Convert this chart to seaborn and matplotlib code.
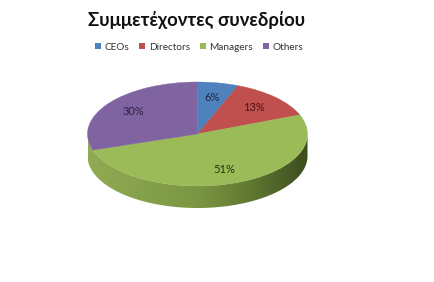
import numpy as np
import matplotlib
matplotlib.use("Agg")
import matplotlib.pyplot as plt
import seaborn as sns
from matplotlib.path import Path
from matplotlib.patches import PathPatch, Patch
import matplotlib.colors as mcolors

categories = ["CEOs", "Directors", "Managers", "Others"]
values = [6, 13, 51, 30]
colors = ["#4F81BD", "#C0504D", "#9BBB59", "#8064A2"]
label_colors = ["#1c2a44", "#4a1514", "#26330f", "#2e2244"]
title = "Συμμετέχοντες συνεδρίου"

sns.set_theme(style="white")
plt.rcParams['font.family'] = ['Lato', 'DejaVu Sans']

W, H = 434, 282
fig = plt.figure(figsize=(W / 100, H / 100), dpi=100)
ax = fig.add_axes([0, 0, 1, 1])

# geometry in pixels
cx, cy = 197.5, 134.0
a, b = 110.0, 52.0
thick = 22.0 / b

# side band (gradient) drawn first
th = np.linspace(np.pi, 2 * np.pi, 200)
top = np.column_stack([np.cos(th), np.sin(th)])
bot = np.column_stack([np.cos(th[::-1]), np.sin(th[::-1]) - thick])
verts = np.vstack([top, bot, top[:1]])
codes = [Path.MOVETO] + [Path.LINETO] * (len(verts) - 2) + [Path.CLOSEPOLY]
band = PathPatch(Path(verts, codes), facecolor="none", edgecolor="none")
ax.add_patch(band)
cmap = mcolors.LinearSegmentedColormap.from_list(
    "side", ["#8fab53", "#86a14b", "#7b9642", "#5f7732", "#3c4c1e"])
grad = np.linspace(0, 1, 256).reshape(1, -1)
im = ax.imshow(grad, extent=(-1, 1, -1 - thick, 0.1), cmap=cmap,
               aspect="auto", zorder=1, interpolation="bilinear")
im.set_clip_path(band)

wedges, texts, autotexts = ax.pie(
    values, colors=colors, startangle=90, counterclock=False,
    autopct="%1.0f%%", pctdistance=0.72,
    wedgeprops=dict(linewidth=0, zorder=2),
    textprops=dict(fontsize=8))
for w, c in zip(wedges, colors):
    w.set_zorder(2)
    w.set_edgecolor(c)
    w.set_linewidth(0.3)
for t, c in zip(autotexts, label_colors):
    t.set_color(c)
    t.set_zorder(3)

ax.set_aspect("auto")
ax.set_xlim(-cx / a, (W - cx) / a)
ax.set_ylim(-(H - cy) / b, cy / b)
ax.axis("off")

fig.text(196.5 / W, 1 - 20 / H, title, ha="center", va="center",
         fontsize=13.3, fontweight="bold", color="#111111")

handles = [Patch(facecolor=c, edgecolor="none", label=l)
           for c, l in zip(colors, categories)]
fig.legend(handles=handles, loc="center", bbox_to_anchor=(199 / W, 1 - 47 / H),
           ncol=4, frameon=False, fontsize=7.2, handlelength=0.6, handleheight=0.6,
           handletextpad=0.4, columnspacing=0.95, labelcolor="#333333")

fig.savefig("out.png", dpi=100)
